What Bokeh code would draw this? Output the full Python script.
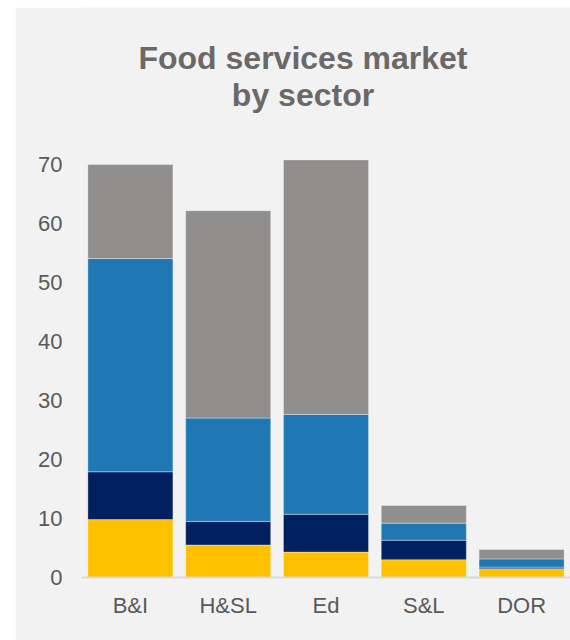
from bokeh.plotting import figure
from bokeh.models import ColumnDataSource, FixedTicker, Range1d, FactorRange
from bokeh.core.properties import value
from bokeh.embed import file_html
from bokeh.resources import INLINE

categories = ["B&I", "H&SL", "Ed", "S&L", "DOR"]
seg_yellow = [9.8, 5.5, 4.3, 3.0, 1.5]
seg_navy = [8.1, 4.0, 6.4, 3.3, 0.25]
seg_blue = [36.1, 17.5, 16.9, 2.9, 1.4]
seg_gray = [15.9, 35.1, 43.1, 3.0, 1.6]
y_ticks = [0, 10, 20, 30, 40, 50, 60, 70]
title_lines = ["Food services market", "by sector"]

series = ["yellow", "navy", "blue", "gray"]
colors = ["#FFC000", "#002060", "#1F78B4", "#918F8D"]

source = ColumnDataSource(dict(cat=categories, yellow=seg_yellow, navy=seg_navy,
                               blue=seg_blue, gray=seg_gray))

BG = "#F2F2F2"
p = figure(width=555, height=633, margin=(7, 0, 0, 15),
           x_range=FactorRange(*categories, range_padding=0),
           y_range=Range1d(0, 96.5),
           output_backend="svg", toolbar_location=None,
           background_fill_color=BG, border_fill_color=BG,
           min_border_left=66, min_border_right=0, min_border_top=0,
           min_border_bottom=63)
p.outline_line_color = None
p.xgrid.grid_line_color = None
p.ygrid.grid_line_color = None

p.vbar_stack(series, x="cat", width=0.87, source=source, color=colors,
             line_color="white", line_alpha=0.35, line_width=1)

# title as text in data space above the bars
p.text(x=["Ed", "Ed"], y=[87.9, 81.7], text=title_lines,
       x_offset=-23, text_align="center", text_baseline="alphabetic",
       text_font=value("Liberation Sans"), text_font_style="bold",
       text_font_size="32px", text_color="#6B6867")

p.yaxis.ticker = FixedTicker(ticks=y_ticks)
p.yaxis.axis_line_color = None
p.yaxis.major_tick_line_color = None
p.yaxis.minor_tick_line_color = None
p.yaxis.major_tick_out = 0
p.yaxis.major_label_standoff = 19
p.yaxis.major_label_text_font = "Liberation Sans"
p.yaxis.major_label_text_font_size = "22px"
p.yaxis.major_label_text_color = "#595959"

p.xaxis.axis_line_color = "#D9D9D9"
p.xaxis.axis_line_width = 2
p.xaxis.major_tick_line_color = None
p.xaxis.minor_tick_line_color = None
p.xaxis.major_tick_out = 0
p.xaxis.major_label_standoff = 15
p.xaxis.major_label_text_font = "Liberation Sans"
p.xaxis.major_label_text_font_size = "22px"
p.xaxis.major_label_text_color = "#595959"

open("out.html", "w").write(file_html(p, INLINE))
